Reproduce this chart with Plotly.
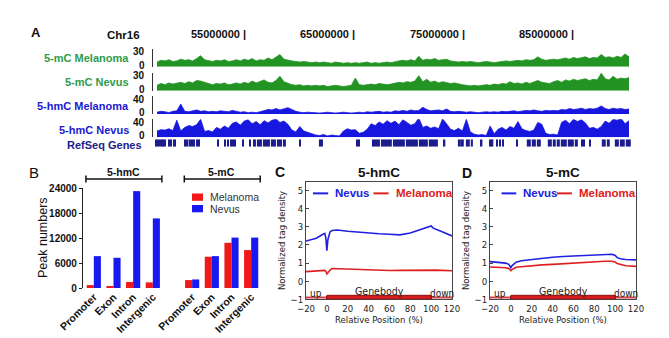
import numpy as np
import plotly.graph_objects as go

W, H = 669, 338


def px(x):
    return x / W


def py(y):
    return 1 - y / H


ARIAL = "Liberation Sans, Arial, sans-serif"
MPL = "DejaVu Sans Condensed, DejaVu Sans, sans-serif"

# ---------------- Panel A: chr16 coverage tracks ----------------
chrom_start_mb, chrom_end_mb = 46.59, 90.12
ruler_mb = [55, 65, 75, 85]

mc_melanoma = [
    8, 11, 10, 12, 9, 10, 13, 11, 12, 10,
    14, 19, 12, 10, 9, 11, 10, 12, 9, 10,
    12, 10, 13, 11, 14, 10, 12, 11, 15, 12,
    16, 21, 13, 11, 10, 9, 8, 9, 8, 7,
    8, 7, 8, 7, 6, 8, 7, 6, 7, 6,
    7, 6, 7, 8, 6, 7, 6, 7, 8, 7,
    9, 10, 11, 10, 12, 10, 18, 11, 13, 12,
    14, 11, 12, 13, 10, 9, 8, 9, 8, 9,
    8, 7, 8, 9, 8, 7, 8, 9, 10, 9,
    10, 11, 10, 12, 11, 12, 17, 13, 11, 12,
    13, 12, 14, 15, 13, 16, 14, 15, 17, 14,
    16, 15, 21, 16, 17, 15, 18, 16, 22, 17,
]
mc_nevus = [
    9, 12, 10, 13, 11, 12, 14, 12, 15, 13,
    17, 16, 14, 11, 10, 12, 11, 13, 10, 11,
    13, 11, 14, 12, 16, 13, 15, 18, 14, 13,
    17, 24, 15, 12, 10, 9, 10, 8, 9, 8,
    9, 8, 9, 7, 8, 9, 8, 7, 8, 9,
    21, 10, 9, 10, 11, 10, 12, 11, 10, 11,
    12, 14, 13, 15, 14, 16, 25, 15, 19, 14,
    16, 13, 15, 14, 12, 13, 11, 10, 9, 8,
    9, 8, 9, 10, 9, 11, 10, 12, 11, 15,
    12, 13, 11, 14, 12, 15, 17, 14, 13, 12,
    15, 17, 14, 18, 16, 19, 17, 18, 20, 17,
    19, 18, 29, 20, 18, 24, 19, 21, 20, 22,
]
hmc_melanoma = [
    4, 6, 5, 3, 6, 7, 22, 6, 5, 7,
    9, 6, 7, 5, 6, 5, 7, 6, 5, 8,
    6, 4, 5, 3, 4, 3, 5, 8, 10, 9,
    12, 9, 11, 14, 10, 6, 4, 3, 4, 3,
    3, 2, 3, 4, 3, 2, 3, 4, 3, 2,
    3, 4, 3, 5, 4, 5, 6, 4, 5, 4,
    7, 6, 8, 6, 9, 7, 8, 15, 10, 7,
    8, 9, 7, 11, 6, 5, 6, 5, 4, 5,
    4, 3, 4, 5, 4, 5, 4, 6, 5, 6,
    7, 5, 6, 8, 7, 9, 7, 6, 8, 7,
    8, 7, 10, 9, 12, 10, 11, 13, 10, 12,
    11, 13, 18, 12, 10, 13, 11, 12, 10, 11,
]
hmc_nevus = [
    14, 17, 16, 19, 15, 38, 14, 22, 26, 24,
    28, 40, 13, 15, 12, 22, 18, 25, 20, 31,
    34, 27, 36, 39, 30, 35, 28, 37, 32, 38,
    41, 33, 36, 29, 16, 12, 24, 14, 11, 8,
    5, 4, 6, 3, 5, 4, 3, 14, 19, 16,
    17, 9, 11, 18, 30, 26, 34, 29, 37, 31,
    36, 28, 39, 33, 27, 30, 43, 22, 25, 20,
    23, 19, 41, 30, 18, 15, 20, 14, 40, 12,
    7, 5, 6, 4, 25, 8, 18, 22, 16, 24,
    20, 35, 19, 15, 13, 16, 33, 29, 9, 6,
    7, 5, 33, 38, 30, 40, 35, 39, 32, 20,
    22, 18, 24, 36, 31, 40, 38, 42, 30, 37,
]

# RefSeq gene blocks (Mb)
gene_starts = [
    46.64, 46.86, 47.03, 47.17, 47.32, 47.50, 47.82, 48.01, 48.24, 48.42,
    49.33, 49.51, 49.74, 49.97, 50.15, 50.38, 50.61,
    52.35, 52.90, 53.26, 53.49, 53.72, 53.90, 54.59,
    55.27, 55.55, 55.91, 56.46, 57.19, 57.74, 58.29, 59.84, 61.58,
    65.03, 65.24, 66.43, 67.25, 68.35, 69.53, 70.72, 71.63, 72.96,
    74.29, 74.65, 75.02, 75.47, 76.39, 77.21, 77.39, 77.85, 78.12, 78.40,
    79.63, 80.59, 81.05, 81.51, 82.51, 82.97, 83.33, 83.70, 84.34, 84.98,
    85.62, 85.80, 86.31, 87.45, 87.91, 88.64, 89.10, 89.64,
]
gene_ends = [
    46.77, 46.96, 47.10, 47.25, 47.41, 47.60, 47.92, 48.10, 48.33, 48.51,
    49.42, 49.65, 49.83, 50.06, 50.25, 50.47, 50.70,
    52.44, 53.08, 53.35, 53.58, 53.81, 53.99, 54.68,
    55.37, 55.82, 56.37, 57.10, 57.65, 58.20, 58.56, 59.92, 61.95,
    65.08, 65.33, 67.16, 68.25, 69.44, 70.63, 71.54, 72.46, 73.14,
    74.56, 74.83, 75.38, 75.66, 76.53, 77.35, 77.53, 77.94, 78.22, 78.49,
    79.73, 80.96, 81.42, 81.87, 82.88, 83.24, 83.61, 84.25, 84.89, 85.26,
    85.71, 85.90, 86.40, 87.81, 88.18, 89.01, 89.55, 90.10,
]

# ---------------- Panel B: peak counts ----------------
regions = ["Promoter", "Exon", "Intron", "Intergenic"]
hmc_peaks_melanoma = [700, 450, 1450, 1350]
hmc_peaks_nevus = [7650, 7250, 23250, 16700]
mc_peaks_melanoma = [1900, 7500, 10850, 9100]
mc_peaks_nevus = [2050, 7650, 12100, 12100]

# ---------------- Panels C/D: metagene profiles ----------------
rel_pos = [-20, -10, -5, -2, -1, 0, 1, 3, 5, 10, 20, 30, 40, 50, 60, 70,
           80, 90, 97, 100, 102, 105, 110, 120]
hmc_profile_nevus = [2.22, 2.37, 2.55, 2.64, 2.40, 1.69, 2.30, 2.72, 2.80,
                     2.83, 2.76, 2.70, 2.65, 2.62, 2.59, 2.56, 2.66, 2.84,
                     2.98, 3.05, 2.93, 2.85, 2.74, 2.50]
hmc_profile_melanoma = [0.53, 0.57, 0.61, 0.60, 0.55, 0.40, 0.47, 0.62, 0.70,
                        0.69, 0.64, 0.62, 0.60, 0.59, 0.59, 0.60, 0.61, 0.62,
                        0.63, 0.63, 0.62, 0.61, 0.60, 0.58]
mc_profile_nevus = [1.08, 1.04, 1.00, 0.93, 0.85, 0.75, 0.85, 0.97, 1.05,
                    1.13, 1.20, 1.29, 1.32, 1.36, 1.39, 1.43, 1.46, 1.50,
                    1.49, 1.42, 1.30, 1.24, 1.20, 1.18]
mc_profile_melanoma = [0.78, 0.76, 0.74, 0.70, 0.64, 0.58, 0.64, 0.72, 0.77,
                       0.80, 0.86, 0.90, 0.93, 0.97, 1.01, 1.04, 1.07, 1.10,
                       1.10, 1.06, 0.98, 0.92, 0.85, 0.82]

GREEN = "#239423"
BLUE_TRK = "#1717e0"
NAVY = "#1c1c8c"
RED = "#f01818"
BLUE = "#1818f0"

fig = go.Figure()

# ---- coverage tracks ----
n_bins = len(mc_melanoma)
edges = np.linspace(chrom_start_mb, chrom_end_mb, n_bins + 1)
centers = (edges[:-1] + edges[1:]) / 2
# (values, y axis, colour, scale max, track bottom/top px, label fractions)
tracks = [
    (mc_melanoma, "y", GREEN, 30, (66.7, 49.3), (0.86, 0.06)),
    (mc_nevus, "y2", GREEN, 30, (90.7, 72.7), (0.82, 0.08)),
    (hmc_melanoma, "y3", BLUE_TRK, 40, (114.0, 96.0), (0.82, 0.07)),
    (hmc_nevus, "y4", BLUE_TRK, 40, (137.3, 119.3), (0.81, 0.10)),
]
for vals, yref, col, top, _, _ in tracks:
    fig.add_trace(go.Scatter(
        x=centers, y=vals, xaxis="x", yaxis=yref, mode="lines",
        line=dict(color=col, width=0.8), fill="tozeroy", fillcolor=col,
        hoverinfo="skip", showlegend=False))

gs = np.array(gene_starts)
ge = np.array(gene_ends)
fig.add_trace(go.Bar(
    x=(gs + ge) / 2, y=np.ones(len(gs)), width=ge - gs, xaxis="x", yaxis="y5",
    marker=dict(color=NAVY, line=dict(width=0)), showlegend=False,
    hoverinfo="skip"))

# ---- panel B bars ----
slots_hmc = list(range(len(regions)))
slots_mc = [len(regions) + 1 + i for i in range(len(regions))]
bar_w = 0.36
fig.add_trace(go.Bar(
    x=slots_hmc + slots_mc, y=hmc_peaks_melanoma + mc_peaks_melanoma,
    width=bar_w, offset=-bar_w, xaxis="x6", yaxis="y6",
    marker=dict(color=RED, line=dict(width=0)), showlegend=False))
fig.add_trace(go.Bar(
    x=slots_hmc + slots_mc, y=hmc_peaks_nevus + mc_peaks_nevus,
    width=bar_w, offset=0, xaxis="x6", yaxis="y6",
    marker=dict(color=BLUE, line=dict(width=0)), showlegend=False))

# ---- panels C, D profiles ----
for xa, ya, nev, mel in [("x7", "y7", hmc_profile_nevus, hmc_profile_melanoma),
                         ("x8", "y8", mc_profile_nevus, mc_profile_melanoma)]:
    fig.add_trace(go.Scatter(x=rel_pos, y=nev, xaxis=xa, yaxis=ya, mode="lines",
                             line=dict(color="#2020e0", width=1.6),
                             showlegend=False))
    fig.add_trace(go.Scatter(x=rel_pos, y=mel, xaxis=xa, yaxis=ya, mode="lines",
                             line=dict(color="#e02020", width=1.6),
                             showlegend=False))

layout = dict(
    width=W, height=H,
    margin=dict(l=0, r=0, t=0, b=0, pad=0, autoexpand=False),
    paper_bgcolor="white", plot_bgcolor="white", showlegend=False,
    barmode="overlay",
)

# track axes
layout["xaxis"] = dict(domain=[px(155), px(631)],
                       range=[chrom_start_mb, chrom_end_mb],
                       visible=False, anchor="y", automargin=False)
for i, (vals, yref, col, top, (yb, yt), _) in enumerate(tracks):
    key = "yaxis" if yref == "y" else "yaxis" + yref[1:]
    layout[key] = dict(
        domain=[py(yb), py(yt)], range=[0, top], anchor="free",
        position=px(152), showline=True, linecolor="#333", linewidth=1.3,
        ticks="inside", ticklen=3, tickwidth=1.3, tickcolor="#333",
        tickvals=[0, top], showticklabels=False,
        showgrid=False, zeroline=False, automargin=False)
layout["yaxis5"] = dict(domain=[py(146.7), py(139.3)], range=[0, 1],
                        anchor="free", position=px(155), visible=False,
                        automargin=False)

# panel B axes
layout["xaxis6"] = dict(
    domain=[px(83), px(261)], range=[-0.55, 8.5], anchor="y6",
    tickvals=slots_hmc + slots_mc, ticktext=regions + regions,
    tickangle=-45, ticks="", showline=False, showgrid=False, zeroline=False,
    automargin=False,
    tickfont=dict(family=ARIAL, size=10.5, color="#111", weight="bold"))
layout["yaxis6"] = dict(
    domain=[py(288), py(188)], range=[0, 24000], anchor="x6",
    tickvals=[0, 6000, 12000, 18000, 24000], tickformat="d",
    showline=True, linecolor="#222", linewidth=1.2, ticks="outside",
    ticklen=3, tickcolor="#222", showgrid=False, zeroline=False,
    automargin=False,
    tickfont=dict(family=ARIAL, size=10, color="#111", weight="bold"))

# panel C/D axes
prof_tick_font = dict(family=MPL, size=9.5, color="#222")
for xk, yk, x0, x1 in [("xaxis7", "yaxis7", 306, 452),
                       ("xaxis8", "yaxis8", 490, 636)]:
    layout[xk] = dict(
        domain=[px(x0), px(x1)], range=[-20, 120], anchor="y" + yk[-1],
        tickvals=list(range(-20, 121, 20)), ticks="inside", ticklen=3,
        showline=True, mirror=True, linecolor="#444", linewidth=1,
        showgrid=False, zeroline=False, tickfont=prof_tick_font,
        automargin=False,
        title=dict(text="Relative Position (%)", standoff=0,
                   font=dict(family=MPL, size=9.5, color="#222")))
    layout[yk] = dict(
        domain=[py(299.3), py(181.6)], range=[-1, 5.5], anchor="x" + xk[-1],
        tickvals=list(range(-1, 6)), ticks="inside", ticklen=3,
        showline=True, mirror=True, linecolor="#444", linewidth=1,
        showgrid=False, zeroline=False, tickfont=prof_tick_font,
        automargin=False,
        title=dict(text="Normalized tag density", standoff=3,
                   font=dict(family=MPL, size=9.5, color="#222")))

fig.update_layout(**layout)

ann = []
shapes = []


def text(x, y, s, size=11, color="#111", bold=True, xanchor="center",
         family=ARIAL, xref="paper", yref="paper", textangle=0):
    ann.append(dict(x=x, y=y, xref=xref, yref=yref, text=s, showarrow=False,
                    xanchor=xanchor, yanchor="middle", textangle=textangle,
                    font=dict(family=family, size=size, color=color,
                              weight="bold" if bold else "normal")))


# panel letters
text(px(36), py(33), "A", size=13)
text(px(34), py(173), "B", size=15, bold=False)
text(px(280), py(172), "C", size=14)
text(px(467), py(173), "D", size=14)

# panel A header & labels
text(px(142), py(35), "Chr16", size=11.5, xanchor="right")
for mb in ruler_mb:
    text(mb + 0.08, py(33.5), f"{mb * 1000000} |", size=11, xanchor="right",
         xref="x")
text(px(131), py(57.5), "5-mC Melanoma", size=11, color="#2e9c4c", xanchor="right")
text(px(131), py(82.5), "5-mC Nevus", size=11, color="#2e9c4c", xanchor="right")
text(px(131), py(105.5), "5-hmC Melanoma", size=11, color="#1a1ad0", xanchor="right")
text(px(131), py(129.5), "5-hmC Nevus", size=11, color="#1a1ad0", xanchor="right")
text(px(144), py(145), "RefSeq Genes", size=11, color="#1c1c8c", xanchor="right")

# scale labels beside each track bracket
for vals, yref, col, top, _, (f_top, f_bot) in tracks:
    for frac, lab in [(f_top, str(top)), (f_bot, "0")]:
        text(px(147), frac, lab, size=10, xanchor="right",
             yref=yref + " domain")

# panel B y-axis title
text(px(43), py(238), "Peak numbers", size=12.5, bold=False, textangle=-90)

# panel B group brackets
for slots, label in [(slots_hmc, "5-hmC"), (slots_mc, "5-mC")]:
    xa, xb = slots[0] - 0.4, slots[-1] + 0.46
    shapes.append(dict(type="line", xref="x6", yref="paper", x0=xa, x1=xb,
                       y0=py(179), y1=py(179), line=dict(color="#111", width=1.5)))
    for xe in (xa, xb):
        shapes.append(dict(type="line", xref="x6", yref="paper", x0=xe, x1=xe,
                           y0=py(175.5), y1=py(182.5),
                           line=dict(color="#111", width=1.5)))
    text(float(np.mean(slots)), py(171.5), label, size=10.5, xref="x6")

# panel B legend
for y0, col, lab in [(193.5, RED, "Melanoma"), (205, BLUE, "Nevus")]:
    shapes.append(dict(type="rect", xref="paper", yref="paper",
                       x0=px(192), x1=px(203), y0=py(y0 + 7.3), y1=py(y0),
                       fillcolor=col, line=dict(width=0)))
    text(px(208), py(y0 + 3.8), lab, size=10.5, color="#333", bold=False,
         xanchor="left")

# panel C/D titles, legends and gene body bars
for xa, ya, title, cx, leg in [
        ("x7", "y7", "5-hmC", 379, (0.048, 0.152, 0.186, 0.462, 0.566, 0.60)),
        ("x8", "y8", "5-mC", 563, (0.079, 0.180, 0.214, 0.459, 0.561, 0.595))]:
    text(px(cx), py(172), title, size=13.5)
    b0, b1, bt, r0, r1, rt = leg
    ly = 0.90
    for l0, l1, lt, col, lab in [(b0, b1, bt, "#2020e0", "Nevus"),
                                 (r0, r1, rt, "#e02020", "Melanoma")]:
        shapes.append(dict(type="line", xref=xa + " domain",
                           yref=ya + " domain", x0=l0, x1=l1, y0=ly, y1=ly,
                           line=dict(color=col, width=2)))
        ann.append(dict(x=lt, y=ly, xref=xa + " domain", yref=ya + " domain",
                        text=lab, showarrow=False, xanchor="left",
                        yanchor="middle",
                        font=dict(family=ARIAL, size=11.5, color=col,
                                  weight="bold")))
    # flanking regions and gene body
    for s0, s1 in [(-20, 0), (100, 120)]:
        shapes.append(dict(type="line", xref=xa, yref=ya, x0=s0, x1=s1,
                           y0=-0.9, y1=-0.9,
                           line=dict(color="#d84444", width=2.2)))
    shapes.append(dict(type="rect", xref=xa, yref=ya, x0=0, x1=100,
                       y0=-1.0, y1=-0.78, fillcolor="#d41c1c",
                       line=dict(color="#8a1010", width=1)))
    text(-10.5, -0.66, "up", size=10, color="#222", bold=False, family=MPL,
         xref=xa, yref=ya)
    text(50, -0.53, "Genebody", size=10.5, color="#222", bold=False,
         family=MPL, xref=xa, yref=ya)
    text(110.5, -0.66, "down", size=10, color="#222", bold=False, family=MPL,
         xref=xa, yref=ya)

fig.update_layout(annotations=ann, shapes=shapes)
fig.write_html("out.html")
